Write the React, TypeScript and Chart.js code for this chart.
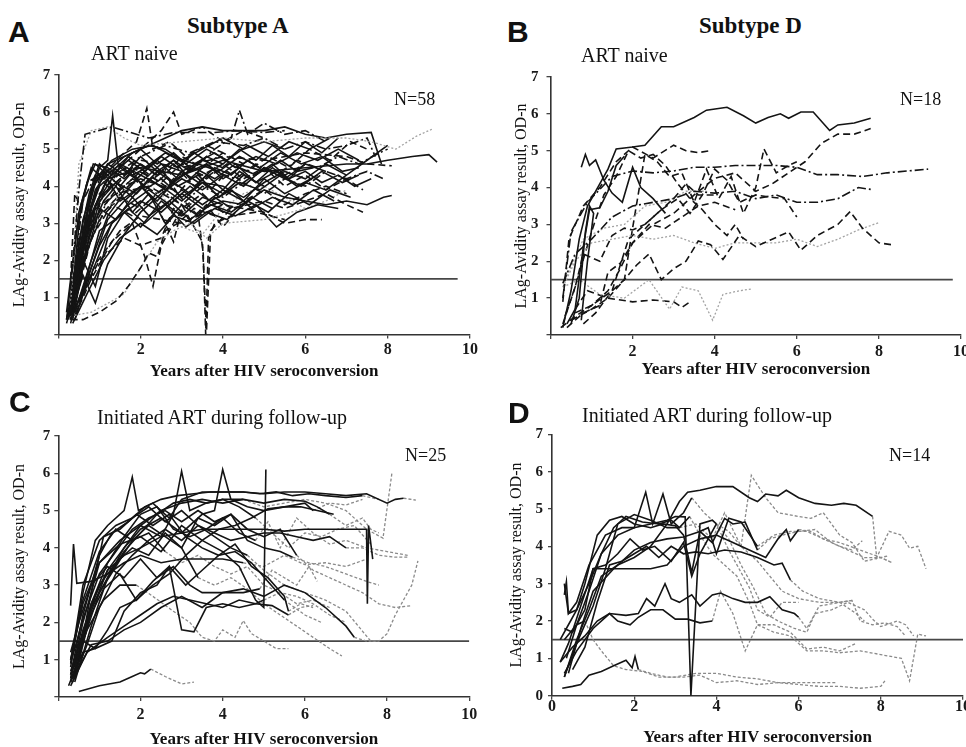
import React, { useEffect, useRef } from 'react';
import { Chart, registerables } from 'chart.js';
Chart.register(...registerables);

const SERIF = '"Liberation Serif", "Times New Roman", serif';
const SANS = '"Liberation Sans", Arial, sans-serif';

// ---------- axis ticks / labels ----------
const xTickValues = [0, 2, 4, 6, 8, 10];
const xTickLabelsNoZero = ['', '2', '4', '6', '8', '10'];
const xTickLabelsZero = ['0', '2', '4', '6', '8', '10'];
const yTickValues = [0, 1, 2, 3, 4, 5, 6, 7];
const yTickLabelsNoZero = ['', '1', '2', '3', '4', '5', '6', '7'];
const yTickLabelsZero = ['0', '1', '2', '3', '4', '5', '6', '7'];
const cutoffValue = 1.5;

// ---------- Panel A: subtype A, ART naive (x, y pairs) ----------
const seriesA: number[][] = [
  [0.25,0.4, 0.5,2.0, 0.8,3.8, 1.0,4.5, 1.2,4.7, 1.32,5.9, 1.45,4.6, 1.8,4.3, 2.3,4.6, 2.8,4.1, 3.3,4.5, 3.8,4.2, 4.3,4.6, 4.8,4.1, 5.3,4.4, 5.8,4.0, 6.3,4.3],
  [0.3,1.2, 0.5,3.9, 0.65,5.4, 1.3,5.6, 1.6,5.5, 2.2,5.3, 2.8,5.45, 3.3,5.45, 3.8,5.45, 4.3,5.5, 5.0,5.45, 5.5,5.5],
  [0.3,0.8, 0.5,4.6, 0.8,5.5, 1.2,5.6, 1.6,5.3, 2.0,5.1, 3.0,5.2, 4.0,5.3, 5.0,5.2, 6.0,5.3, 7.0,5.3, 7.6,5.2, 8.2,5.0, 8.7,5.35, 9.1,5.55],
  [0.3,0.6, 0.6,2.5, 1.0,4.2, 1.5,4.8, 1.9,5.2, 2.15,6.1, 2.3,5.0, 2.7,5.2, 3.1,4.8, 3.6,5.1, 4.0,4.9],
  [0.35,0.7, 0.7,3.2, 1.1,4.3, 1.6,4.6, 2.0,5.0, 2.5,5.5, 2.8,6.0, 3.0,5.4, 3.5,5.6, 4.0,5.2, 4.5,5.5, 5.0,5.3],
  [0.3,0.5, 0.7,2.6, 1.2,3.6, 1.8,4.2, 2.4,3.8, 3.0,4.3, 3.4,4.6, 3.8,5.0, 4.2,5.3, 4.4,6.05, 4.6,5.4, 5.0,5.7, 5.5,5.4, 6.0,5.5, 6.5,5.2],
  [0.3,0.5, 0.7,3.0, 1.2,4.2, 2.0,4.5, 3.0,4.3, 4.0,4.7, 5.0,4.4, 6.0,4.5, 7.0,4.6, 7.5,4.6, 8.0,4.7, 8.6,4.8, 9.0,4.85, 9.2,4.65],
  [0.4,0.8, 0.8,3.5, 1.2,4.6, 2.0,5.0, 2.6,5.3, 3.0,5.5, 3.5,5.6, 4.0,5.5, 4.5,5.5, 5.0,5.5, 5.5,5.6, 6.0,5.4, 6.5,5.3, 7.0,5.4, 7.6,5.45, 7.85,4.6],
  [0.3,0.6, 0.6,2.2, 1.0,3.8, 1.5,4.4, 2.0,4.7, 3.0,4.5, 4.0,4.8, 5.0,4.7, 6.0,4.9, 7.0,4.8, 7.5,4.6, 8.1,4.55],
  [0.3,0.4, 0.6,1.2, 1.0,2.8, 1.5,3.2, 2.0,3.6, 2.5,3.3, 3.0,3.8, 3.5,3.4, 4.0,3.6, 4.5,3.5, 5.0,3.9, 5.5,3.7, 6.0,3.6, 6.5,3.5, 7.0,3.6, 7.5,3.5, 7.9,3.7, 8.1,3.75],
  [0.3,0.4, 0.6,0.4, 1.0,0.6, 1.4,0.9, 1.7,1.3, 2.0,1.8, 2.2,2.2, 2.4,2.1, 2.6,2.8, 2.9,3.0, 3.3,3.4, 3.8,3.2],
  [0.3,0.5, 0.8,0.6, 1.3,0.9, 1.6,1.1, 2.0,1.8, 2.4,2.5, 2.8,2.8, 3.2,3.0, 3.6,2.6, 4.0,3.0, 5.0,3.1, 6.0,3.4],
  [0.4,0.5, 0.8,1.5, 1.3,2.5, 1.8,3.0, 2.1,2.1, 2.3,1.3, 2.5,2.4, 2.9,3.2, 3.3,3.6],
  [0.3,1.0, 0.8,3.0, 1.4,3.9, 2.0,4.2, 2.8,3.9, 3.4,3.2, 3.52,2.2, 3.58,0.0, 3.65,2.6, 3.8,3.0, 4.2,3.2, 4.8,3.3, 5.5,3.1],
  [0.3,0.8, 0.8,3.3, 1.4,3.8, 2.2,4.0, 3.0,3.5, 3.5,2.5, 3.6,0.1, 3.7,2.8, 4.2,3.4, 5.0,3.6, 5.5,3.4, 6.0,3.6, 6.5,3.8, 7.0,3.5, 7.4,3.3],
  [0.4,0.6, 0.9,1.9, 1.5,2.8, 2.0,3.2, 3.0,3.0, 4.0,3.5, 5.0,3.3, 5.5,3.0, 6.0,3.1, 6.4,3.1],
  [0.2,0.4, 0.45,2.8, 0.7,4.1, 0.9,4.6, 1.2,4.3, 1.5,4.0, 1.8,4.4, 2.1,3.9, 2.5,4.2, 3.0,3.7, 3.5,4.1, 4.0,3.8, 4.5,4.3, 5.0,4.0],
  [0.25,0.5, 0.5,2.2, 0.8,3.9, 1.1,4.4, 1.5,3.6, 2.0,4.0, 2.5,3.4, 3.0,3.9, 3.5,3.5, 4.0,3.9, 4.5,3.6, 5.0,4.2, 5.5,3.8, 6.0,4.1, 6.5,3.9, 7.0,4.3],
  [0.3,0.9, 0.6,3.1, 0.9,4.2, 1.3,4.7, 1.8,5.0, 2.3,5.1, 2.8,4.8, 3.3,4.6, 3.8,4.9, 4.3,4.5, 4.8,4.8, 5.3,4.6, 5.8,4.9, 6.3,4.7, 6.8,5.0, 7.3,4.7],
  [0.3,0.3, 0.6,1.8, 1.0,3.4, 1.4,3.1, 1.8,3.7, 2.2,3.2, 2.7,3.6, 3.2,3.1, 3.7,3.5, 4.2,3.3, 4.7,3.7, 5.2,3.4],
  [0.2,0.6, 0.5,3.3, 0.8,4.5, 1.1,4.2, 1.5,4.6, 2.0,4.3, 2.4,4.7, 2.9,4.2, 3.4,4.6, 3.9,4.4, 4.4,4.8, 4.9,4.5, 5.4,4.9, 5.9,4.6, 6.4,4.8, 6.9,4.4, 7.3,4.5],
  [0.35,0.4, 0.7,2.4, 1.0,3.6, 1.4,4.1, 1.9,3.8, 2.4,4.4, 2.9,4.0, 3.4,4.3, 3.9,3.7, 4.4,4.1, 4.9,3.9, 5.4,4.3, 5.9,4.0, 6.4,4.4, 6.9,4.1, 7.3,4.3],
  [0.3,0.6, 0.65,2.9, 1.0,4.0, 1.5,4.5, 2.0,4.1, 2.5,4.6, 3.0,4.4, 3.5,4.7, 4.0,4.5],
  [0.4,0.5, 0.9,1.9, 1.3,3.0, 1.7,3.5, 2.2,3.9, 2.7,3.5, 3.2,4.0, 3.7,3.6, 4.2,3.9, 4.7,3.4, 5.2,3.7, 5.7,3.5, 6.2,3.9, 6.7,3.6],
  [0.3,0.5, 0.6,2.6, 0.9,3.9, 1.2,4.4, 1.6,4.8, 2.0,5.0, 2.4,4.6, 2.8,4.9, 3.2,4.5, 3.6,4.8, 4.0,4.6, 4.4,5.0, 4.8,4.7, 5.2,5.1, 5.6,4.8, 6.0,5.2, 6.4,4.9, 6.8,5.3],
  [0.2,0.3, 0.5,1.5, 0.8,2.8, 1.1,3.6, 1.4,4.0, 1.8,3.3, 2.2,3.8, 2.6,3.0, 3.0,3.5, 3.4,3.2, 3.8,3.7, 4.2,3.4],
  [0.3,0.7, 0.55,3.5, 0.85,4.6, 1.2,4.5, 1.6,4.2, 2.0,4.6, 2.4,4.3, 2.8,4.7, 3.2,4.4, 3.6,4.6, 4.0,4.2, 4.4,4.5, 4.8,4.3, 5.2,4.6, 5.6,4.2, 6.0,4.4, 6.4,4.1, 6.8,4.3, 7.2,4.0, 7.6,4.2],
  [0.4,0.6, 0.8,2.0, 1.2,3.2, 1.6,3.8, 2.0,4.3, 2.5,4.0, 3.0,3.6, 3.5,4.1, 4.0,4.0, 4.5,3.7, 5.0,4.1, 5.5,4.4, 6.0,4.2, 6.5,4.6, 7.0,4.3, 7.5,4.7, 8.0,5.1],
  [0.3,0.4, 0.7,1.5, 1.0,2.4, 1.3,3.0, 1.7,3.4, 2.1,3.0, 2.6,3.5, 3.1,2.9, 3.6,3.3, 4.1,3.1, 4.6,3.6, 5.1,3.3, 5.6,3.8, 6.1,3.5, 6.6,3.9, 7.1,3.7],
  [0.25,0.5, 0.5,2.5, 0.75,3.8, 1.0,4.6, 1.3,4.3, 1.7,4.7, 2.1,4.4, 2.5,4.8, 2.9,4.5, 3.3,4.9, 3.7,4.6],
  [0.3,1.5, 0.4,3.8, 0.55,3.4, 0.7,4.1, 1.0,4.3, 1.5,3.9, 2.0,4.4, 2.5,4.1, 3.0,4.6, 3.5,4.3, 4.0,4.6, 4.5,4.2, 5.0,4.5, 5.5,4.3, 6.0,4.6],
  [0.35,0.6, 0.8,2.6, 1.3,3.5, 1.8,3.2, 2.3,3.7, 2.8,2.5, 3.0,3.4, 3.5,3.8, 4.0,3.3, 4.5,3.6, 5.0,3.9, 5.5,3.5, 6.0,3.8, 6.5,4.0, 7.0,3.8],
  [0.3,0.7, 0.6,2.0, 1.0,3.1, 1.5,3.7, 2.0,3.4, 2.5,3.9, 3.0,3.5, 3.5,4.0, 4.0,3.7, 4.5,4.1, 5.0,3.8, 5.5,4.2, 6.0,4.0, 6.5,4.4, 7.0,4.2, 7.5,4.4, 7.9,4.2],
  [0.3,0.5, 0.7,2.3, 1.1,3.3, 1.6,3.9, 2.1,4.4, 2.6,4.0, 3.1,4.5, 3.6,4.2, 4.1,4.6, 4.6,4.4, 5.1,4.8, 5.6,4.5, 6.1,5.0, 6.6,4.7, 7.1,5.2, 7.5,5.0],
  [0.4,0.8, 0.9,3.4, 1.5,4.4, 2.0,4.8, 2.6,5.1, 3.2,4.9, 3.8,5.2, 4.5,5.1, 5.0,5.3, 5.5,5.0, 6.0,5.2, 6.5,5.0, 7.0,5.1, 7.5,5.3, 7.7,4.8],
  [0.3,0.9, 0.6,2.0, 0.9,1.3, 1.2,2.6, 1.6,3.3, 2.0,2.9, 2.5,3.6, 3.0,3.2, 3.5,3.7, 4.0,3.5],
  [0.3,0.5, 0.6,1.6, 0.9,0.85, 1.2,1.9, 1.6,2.7, 2.0,3.3, 2.5,3.8, 3.0,4.2, 3.5,3.9, 4.0,4.3, 4.5,4.0, 5.0,4.5, 5.5,4.2, 6.0,4.6, 6.5,4.4],
  [0.2,0.4, 0.4,1.5, 0.6,2.4, 0.8,3.2, 1.1,4.0, 1.4,4.5, 1.8,4.9, 2.2,5.1, 2.6,5.0, 3.0,4.7, 3.5,5.0, 4.0,5.3, 4.5,5.0, 5.0,5.2, 5.5,5.0],
  [0.35,0.3, 0.7,1.1, 1.1,2.0, 1.5,2.6, 2.0,3.0, 2.4,2.7, 2.8,3.2, 3.3,3.0, 3.8,3.4, 4.3,3.2, 4.8,3.5, 5.3,2.9, 5.8,3.3, 6.3,3.5, 6.8,3.4],
  [0.3,0.5, 0.5,1.6, 0.8,2.9, 1.1,3.8, 1.5,4.2, 2.0,4.6, 2.5,4.2, 3.0,4.8, 3.5,4.5, 4.0,4.9, 4.5,4.6],
  [0.3,0.6, 0.6,2.0, 1.0,3.2, 1.5,3.8, 2.0,4.2, 2.5,3.8, 3.0,2.9, 3.5,2.7, 4.0,3.4, 4.5,3.8, 5.0,4.0, 5.5,3.7, 6.0,3.4, 6.5,3.6, 7.0,3.9],
  [0.3,0.5, 0.6,2.3, 0.9,3.5, 1.3,4.2, 1.7,4.8, 2.1,4.5, 2.6,4.9, 3.1,4.6, 3.6,5.0, 4.1,4.7, 4.6,5.1, 5.1,4.8, 5.6,5.2, 6.1,5.0, 6.6,5.3],
  [0.4,0.4, 0.8,1.8, 1.2,3.1, 1.6,3.6, 2.0,4.0, 2.4,3.6, 2.8,4.1, 3.2,3.8, 3.6,4.3, 4.0,3.9, 4.4,4.4, 4.8,4.1, 5.2,4.5, 5.6,4.2, 6.0,4.6],
  [0.4,0.7, 1.0,2.0, 1.6,2.6, 2.0,2.4, 2.5,2.6, 2.8,3.4, 3.2,3.1, 3.6,3.5, 4.0,2.9, 4.3,3.3],
  [0.3,0.4, 0.5,2.4, 0.7,3.5, 1.0,4.4, 1.3,4.0, 1.7,4.4, 2.1,4.0, 2.5,4.5, 2.9,3.8, 3.3,4.3, 3.7,3.9, 4.1,4.4, 4.5,4.1, 5.0,4.5, 5.5,4.0, 6.0,4.3, 6.5,3.9, 7.0,4.2, 7.4,3.9],
  [0.3,0.6, 0.6,2.8, 0.9,4.1, 1.2,4.6, 1.6,4.3, 2.0,4.8, 2.4,4.4, 2.8,4.7, 3.2,4.2, 3.6,4.6, 4.0,4.3],
  [0.25,0.5, 0.5,1.8, 0.75,3.0, 1.0,3.7, 1.4,4.1, 1.8,3.7, 2.2,4.2, 2.6,3.9, 3.0,4.4, 3.4,4.1, 3.8,4.5, 4.2,4.3, 4.6,4.7, 5.0,4.4, 5.4,4.7, 5.8,4.4, 6.2,4.5],
  [0.3,1.0, 0.6,3.6, 0.9,4.3, 1.3,3.9, 1.8,4.5, 2.3,4.2, 2.8,4.6, 3.3,4.0, 3.8,4.4, 4.3,4.2, 4.8,4.6, 5.3,4.3, 5.8,4.7, 6.3,4.5, 6.8,4.8, 7.3,4.6, 7.8,4.9, 8.0,5.0],
];
const stylesA: string[] = [
  's','dd','o','d','d','dd','s','s','d','s','d','o','d','d','d','d',
  's','s','s','s','s','s','s','s','s','s','s','s','s','s','d','d',
  'dd','d','dd','s','s','s','s','d','o','s','s','d','d','s','s','dd',
];

// ---------- Panel B: subtype D, ART naive ----------
const seriesB: number[][] = [
  [0.3,0.2, 0.5,1.2, 0.7,2.6, 0.9,3.5, 1.2,4.1, 1.4,4.5, 1.6,5.05, 2.0,5.1, 2.3,5.15, 2.7,5.65, 3.0,5.65, 3.5,5.9, 3.8,6.1, 4.3,6.18, 4.7,5.95, 5.0,5.75, 5.3,5.9, 5.6,6.0, 5.8,5.88, 6.1,6.05, 6.4,6.05, 6.8,5.55, 7.0,5.7, 7.4,5.75, 7.8,5.88],
  [0.75,4.55, 0.85,4.9, 0.95,4.6, 1.1,4.75, 1.3,4.2, 1.5,3.85, 1.75,3.6, 2.0,4.55, 2.2,4.0, 2.5,3.7, 2.8,3.3],
  [0.4,0.3, 0.6,0.7, 0.8,2.4, 0.95,3.4, 1.2,3.45, 1.4,3.9, 1.6,4.6, 1.8,4.85],
  [0.5,0.3, 0.7,1.0, 0.85,2.8, 0.95,3.5, 1.05,3.3, 0.9,2.0, 0.75,0.4],
  [0.3,0.9, 0.45,2.6, 0.8,3.5, 1.2,4.0, 1.6,4.7, 2.0,5.1, 2.5,4.8, 3.0,5.15, 3.3,5.0, 3.6,4.95, 3.9,5.0],
  [0.3,1.0, 0.5,2.8, 0.9,3.6, 1.5,4.3, 2.0,4.45, 2.5,4.4, 3.0,4.45, 3.5,4.55, 4.0,4.55, 4.5,4.6, 5.0,4.6, 5.5,4.6, 6.0,4.55, 6.5,4.35, 7.0,4.35, 7.6,4.3, 8.2,4.4, 9.2,4.5],
  [0.25,0.2, 0.6,0.5, 1.0,0.8, 1.4,1.2, 1.7,1.8, 2.0,2.5, 2.5,3.0, 3.0,3.3, 3.5,3.8, 4.0,4.25, 4.5,4.4, 5.0,3.9, 5.4,4.1, 5.8,4.4, 6.2,4.7, 6.6,5.2, 7.0,5.45, 7.4,5.45, 7.8,5.6],
  [0.3,1.4, 0.6,2.2, 1.0,2.6, 1.5,3.2, 2.0,3.5, 2.5,3.6, 3.0,3.7, 3.5,3.9, 4.0,3.85, 4.5,3.9, 5.0,3.7, 5.5,3.8, 6.0,3.6, 6.5,3.6, 7.0,3.7, 7.5,4.0, 7.8,3.95],
  [0.6,0.6, 1.0,0.8, 1.5,1.2, 1.8,1.5, 2.1,1.9, 2.4,2.2, 2.7,1.5, 3.0,1.8, 3.3,2.0, 3.6,2.55, 3.9,2.45, 4.2,2.05, 4.6,2.7, 5.0,2.4, 5.4,2.6, 5.8,2.8, 6.1,2.3, 6.5,2.7, 7.0,3.0, 7.3,3.35, 7.6,2.9, 8.0,2.5, 8.3,2.45],
  [0.3,1.3, 0.6,2.0, 1.0,2.5, 1.5,2.6, 2.0,2.7, 2.5,2.6, 3.0,2.7, 3.5,2.5, 4.0,2.35, 4.5,2.5, 5.0,2.5, 5.5,2.5, 6.0,2.6, 6.5,2.4, 7.0,2.6, 7.5,2.85, 8.0,3.05],
  [0.3,1.3, 0.7,1.5, 1.2,1.1, 1.8,1.0, 2.4,1.5, 2.9,0.7, 3.2,1.3, 3.6,1.2, 3.95,0.4, 4.2,1.1, 4.6,1.2, 4.9,1.25],
  [0.6,0.7, 0.9,1.2, 1.4,1.0, 2.0,0.9, 2.5,0.95, 3.0,0.9, 3.2,0.75, 3.4,0.9],
  [0.35,0.5, 0.6,1.3, 0.8,2.2, 1.2,2.0, 1.5,2.7, 1.8,2.9, 2.0,2.85, 2.3,3.0, 2.6,3.3, 3.0,3.7, 3.3,4.1, 3.6,3.8, 4.0,3.8],
  [0.4,1.6, 0.8,2.6, 1.3,2.9, 1.8,3.0, 2.3,3.5, 2.8,3.6, 3.3,3.9, 3.8,3.9],
  [0.3,0.3, 0.6,1.3, 1.0,2.8, 1.3,3.8, 1.6,4.3, 1.9,5.0, 2.2,4.8, 2.5,4.9, 2.8,4.6, 3.1,4.1, 3.4,3.7, 3.7,3.4, 4.0,3.0, 4.3,2.7, 4.5,3.0, 4.7,2.6],
  [0.5,0.4, 1.0,0.7, 1.4,1.0, 1.8,1.5, 2.0,2.9, 2.3,4.9, 2.6,4.7, 2.9,4.3, 3.2,4.4, 3.5,3.6, 3.8,4.5, 4.1,3.7, 4.4,4.3, 4.7,3.3, 5.0,4.0, 5.2,5.05, 5.5,4.4, 5.8,4.6, 6.0,4.7],
  [0.8,0.3, 1.1,0.6, 1.5,1.2, 1.9,2.6, 2.3,3.0, 2.7,3.4, 3.1,3.7, 3.4,3.3, 3.7,3.8, 4.0,4.5, 4.3,4.2, 4.6,3.6, 5.0,3.8, 5.3,3.75, 5.7,3.7, 6.0,3.2],
  [0.4,0.2, 0.8,0.6, 1.2,0.8, 1.4,1.7, 1.7,1.95, 2.0,2.5, 2.4,3.0, 2.8,2.9, 3.2,3.2, 3.6,3.5, 4.0,3.6, 4.5,3.4],
];
const stylesB: string[] = ['s','s','s','s','d','dd','d','dd','d','o','o','d','d','o','d','d','d','d'];

// ---------- Panel C: subtype A, initiated ART (solid before ART, grey dashed after) ----------
const preC: number[][] = [
  [0.3,2.45, 0.37,4.1, 0.45,3.05, 0.8,3.1, 1.2,3.3, 1.6,3.6, 2.0,3.8, 2.5,3.6, 3.0,3.7, 3.5,3.7, 4.0,3.7, 4.5,3.6],
  [0.3,0.8, 0.6,2.8, 0.9,4.2, 1.2,4.6, 1.6,5.0, 1.8,5.9, 1.95,5.0, 2.3,5.2, 2.7,4.8, 3.0,5.3, 3.5,5.5, 4.0,5.5, 4.5,5.5, 5.0,5.45, 5.5,5.5, 6.0,5.5, 6.5,5.45, 7.0,5.4, 7.5,5.45, 8.0,5.2, 8.2,5.3, 8.4,5.33],
  [0.3,0.5, 0.6,2.0, 1.0,3.6, 1.5,4.2, 2.0,4.6, 2.5,4.3, 2.8,4.9, 3.0,6.05, 3.2,5.0, 3.6,5.2, 4.0,5.3, 4.5,5.3, 5.0,5.2, 5.5,5.3, 6.0,5.25, 6.3,5.1, 6.6,4.9],
  [0.4,0.4, 0.8,1.9, 1.2,3.2, 1.6,4.0, 2.0,4.5, 2.5,4.8, 3.0,4.4, 3.5,4.9, 3.8,5.0, 4.0,6.1, 4.2,5.3, 4.6,5.1, 5.0,5.0, 5.5,5.1, 6.0,5.2, 6.2,5.0],
  [0.3,1.0, 0.6,2.5, 1.0,3.6, 1.5,4.1, 2.0,4.3, 2.5,3.9, 3.0,4.6, 3.5,4.2, 4.0,3.9, 4.4,3.5, 4.8,2.6, 5.0,2.4, 5.05,6.1],
  [0.4,0.8, 0.8,2.5, 1.2,3.4, 1.6,3.8, 2.0,4.0, 2.5,4.3, 3.0,4.4, 3.5,4.5, 4.0,4.5, 4.5,4.5, 5.0,4.5, 5.5,4.45, 6.0,4.5, 6.5,4.5, 7.0,4.5, 7.5,4.5, 7.52,2.5, 7.55,4.6, 7.65,3.7],
  [0.5,0.15, 1.0,0.3, 1.5,0.4, 1.8,0.55, 2.0,0.65, 2.1,0.62, 2.25,0.75],
  [0.3,0.3, 0.7,1.2, 1.2,1.6, 1.6,1.9, 2.0,2.2, 2.4,2.5, 2.8,2.7, 3.2,2.6, 3.6,2.5, 4.0,2.4, 4.4,2.6, 4.8,2.5, 5.2,2.45, 5.6,2.2],
  [0.35,0.5, 0.8,1.4, 1.2,1.5, 1.6,1.8, 2.0,2.0, 2.5,2.4, 3.0,2.7, 3.5,2.4, 4.0,2.8, 4.5,2.9, 5.0,2.7, 5.5,3.0, 6.0,2.8, 6.5,2.4, 7.0,1.9, 7.2,1.6],
  [0.3,0.6, 0.7,1.8, 1.1,2.6, 1.5,3.0, 1.9,3.0],
  [0.3,0.4, 0.6,1.5, 1.0,2.8, 1.4,3.5, 1.8,4.2, 2.2,4.6, 2.6,4.3, 3.0,4.0, 3.4,3.2],
  [0.3,0.9, 0.6,3.0, 1.0,4.2, 1.4,4.6, 1.8,4.8, 2.2,5.1, 2.6,4.7, 3.0,5.0, 3.4,4.6, 3.8,4.3, 4.2,4.0, 4.6,3.8],
  [0.4,0.5, 0.8,2.3, 1.2,3.4, 1.6,4.0, 2.0,4.6, 2.5,5.0, 3.0,5.2, 3.5,5.3, 4.0,5.2, 4.5,5.3],
  [0.3,0.6, 0.6,2.2, 1.0,3.8, 1.3,4.4, 1.7,4.7, 2.1,5.1, 2.5,5.3, 2.9,5.4, 3.3,5.45, 3.7,5.5, 4.1,5.5, 4.5,5.5, 4.9,5.45, 5.3,5.5, 5.7,5.4, 6.1,5.45, 6.5,5.4, 7.0,5.35, 7.4,5.4],
  [0.35,0.4, 0.7,1.4, 1.0,2.4, 1.4,3.3, 1.8,3.8, 2.2,4.2, 2.6,4.5, 3.0,4.2, 3.4,4.6, 3.8,4.4, 4.2,4.2, 4.6,4.3, 5.0,4.4, 5.4,4.4, 5.8,4.3, 6.2,4.2, 6.6,4.3, 7.0,4.0],
  [0.3,0.5, 0.6,1.8, 1.0,3.0, 1.4,3.6, 1.8,4.0, 2.2,3.8, 2.6,4.4, 3.0,4.0, 3.4,4.8, 3.8,4.6, 4.2,4.9, 4.6,4.2, 5.0,4.0, 5.4,3.9, 5.7,3.75],
  [0.3,1.2, 0.5,2.0, 0.8,3.0, 1.2,3.5, 1.6,3.2, 2.0,3.7, 2.4,3.2, 2.8,3.5, 3.2,3.0, 3.5,2.8, 4.0,2.8, 4.5,2.8, 4.9,2.9],
  [0.4,0.8, 0.8,2.5, 1.2,3.6, 1.6,4.3, 2.0,4.9, 2.4,5.1, 2.8,4.5, 3.2,4.3, 3.6,4.5, 4.0,4.8, 4.4,4.4, 4.8,4.2],
  [0.3,0.4, 0.6,1.2, 0.9,1.3, 1.2,1.8, 1.5,2.4, 1.9,2.6, 2.3,3.0, 2.7,3.3, 3.1,3.8, 3.5,4.2, 3.9,4.5, 4.3,4.6, 4.7,4.8, 5.1,5.05, 5.5,5.1, 5.9,5.1, 6.3,5.0, 6.7,4.9],
  [0.35,1.3, 0.6,1.5, 0.9,1.3, 1.3,1.5, 1.6,2.3, 2.0,2.8, 2.4,3.0, 2.7,3.5, 3.0,1.8, 3.3,1.75, 3.6,2.4, 4.0,2.5, 4.4,2.4, 4.8,2.5, 5.0,2.6],
  [0.3,0.7, 0.7,2.0, 1.1,2.9, 1.5,3.3, 1.9,2.6, 2.3,3.1, 2.7,3.5, 3.1,3.0, 3.5,3.4, 3.9,3.8, 4.3,4.1, 4.7,3.5, 5.1,3.2, 5.5,2.7, 5.6,2.3],
  [0.3,1.0, 0.6,2.6, 1.0,3.9, 1.4,4.5, 1.8,4.2, 2.2,4.4, 2.6,3.9],
  [0.25,0.3, 0.5,1.0, 0.8,2.8, 1.1,4.3, 1.5,4.5, 1.9,4.9, 2.3,4.6, 2.7,4.9, 3.1,4.3, 3.5,4.0, 3.9,3.8, 4.3,3.9, 4.7,3.6, 5.1,3.1, 5.5,2.6],
  [0.4,0.6, 0.8,2.4, 1.2,3.2, 1.6,3.9, 2.0,4.4, 2.4,4.9, 2.8,5.2, 3.2,5.3, 3.6,5.2, 4.0,5.3, 4.4,5.1, 4.8,4.8],
  [0.3,0.9, 0.6,2.1, 1.0,3.3, 1.4,3.9, 1.8,4.5, 2.2,4.8, 2.6,5.0, 3.0,4.7, 3.4,5.0, 3.8,4.7, 4.2,4.9, 4.6,4.5, 5.0,4.3, 5.4,4.5, 5.8,3.8],
];
const postC: number[][] = [
  [4.5,3.6, 5.0,3.5, 5.5,3.8, 6.0,3.55, 6.5,3.6, 7.0,3.5, 7.5,3.7],
  [8.4,5.33, 8.7,5.28],
  [6.6,4.9, 7.0,4.6, 7.4,4.8, 7.6,4.5, 7.8,4.4],
  [6.2,5.0, 6.6,5.2, 7.0,5.15, 7.4,5.3],
  [],
  [],
  [2.25,0.75, 2.6,0.55, 3.0,0.35, 3.3,0.4],
  [5.6,2.2, 5.9,2.4, 6.2,2.45],
  [7.2,1.6, 7.5,1.5, 7.8,1.5],
  [1.9,3.0, 2.3,2.7, 2.8,2.3, 3.2,2.0, 3.5,1.6, 3.8,1.5, 4.0,1.8, 4.3,1.6, 4.5,2.05, 4.7,1.7, 5.0,1.5, 5.3,1.3, 5.6,1.3],
  [3.4,3.2, 3.8,3.0, 4.2,3.2, 4.6,2.9, 5.0,2.5, 5.4,2.2, 5.8,1.9, 6.2,1.6, 6.6,1.3, 6.9,1.1],
  [4.6,3.8, 5.0,3.4, 5.5,3.0, 6.0,2.8, 6.5,2.6, 7.0,2.3, 7.3,1.9, 7.6,1.5, 7.8,1.5, 8.0,1.7, 8.2,2.2, 8.4,2.6, 8.6,3.0, 8.75,3.65],
  [4.5,5.3, 5.0,5.1, 5.5,5.2, 6.0,5.3, 6.5,5.2, 7.0,5.0, 7.5,4.5, 7.9,4.26, 8.12,6.03],
  [7.4,5.4, 7.8,5.3],
  [7.0,4.0, 7.4,4.0, 7.8,3.8, 8.2,3.75, 8.5,3.75],
  [5.7,3.75, 6.1,3.6, 6.5,3.5, 7.0,3.3, 7.5,3.1, 7.8,3.0],
  [4.9,2.9, 5.2,3.4, 5.5,3.2, 5.8,3.0, 6.1,3.5, 6.3,3.1],
  [4.8,4.2, 5.1,4.7, 5.4,4.0, 5.8,4.8, 6.2,4.4, 6.6,4.1, 7.0,4.2, 7.5,4.0, 8.0,3.9, 8.5,3.8],
  [],
  [5.0,2.6, 5.4,2.8, 5.8,2.5, 6.2,2.6, 6.6,2.4],
  [5.6,2.3, 5.9,2.5, 6.2,2.4],
  [2.6,3.9, 3.0,3.6, 3.4,3.8, 3.8,3.5, 4.2,3.3, 4.6,3.5, 5.0,3.0, 5.4,2.8, 5.8,2.7, 6.2,2.5, 6.6,2.2, 7.0,2.0],
  [5.5,2.6, 6.0,2.2, 6.4,2.0],
  [4.8,4.8, 5.2,4.4, 5.6,4.0, 6.0,4.4, 6.4,4.3, 6.8,4.5, 7.2,4.6, 7.6,4.1],
  [5.8,3.8, 6.2,3.4, 6.6,3.2, 7.0,3.0, 7.4,2.8, 7.8,2.5, 8.2,2.4, 8.6,2.45],
];

// ---------- Panel D: subtype D, initiated ART ----------
const preD: number[][] = [
  [0.3,0.5, 0.6,1.5, 0.9,2.3, 1.2,3.2, 1.6,3.5, 2.0,3.7, 2.4,4.0, 2.8,4.6, 3.1,5.2, 3.3,5.45, 3.6,5.5, 4.0,5.6, 4.4,5.6, 4.8,5.3, 5.0,5.2, 5.2,5.4, 5.5,5.35, 5.7,5.5, 6.0,5.3, 6.4,5.15, 6.8,5.1, 7.1,5.15, 7.4,5.1, 7.8,4.8],
  [0.2,1.5, 0.4,1.9, 0.6,2.3, 0.9,3.0, 1.2,3.8, 1.6,4.3, 2.0,4.5, 2.4,4.6, 2.8,4.7, 3.0,4.8, 3.24,4.79, 3.38,0.0, 3.6,4.6, 3.9,4.7, 4.0,4.6],
  [0.3,2.7, 0.35,3.05, 0.4,2.2, 0.6,2.5, 0.9,3.5, 1.3,4.3, 1.7,4.5, 2.0,4.5, 2.28,5.45, 2.45,4.6, 2.7,5.4, 2.9,4.6, 3.2,4.9, 3.4,5.3],
  [0.2,0.9, 0.4,1.4, 0.7,2.4, 1.0,3.4, 1.5,3.4, 2.0,3.9, 2.4,4.1, 2.8,4.2, 3.2,4.25, 3.6,4.4, 3.8,4.5, 4.0,3.8, 4.3,4.75, 4.6,4.65, 5.0,4.0],
  [0.4,0.6, 0.7,1.8, 1.0,2.8, 1.5,3.4, 2.0,3.4, 2.4,3.4, 2.8,3.5, 3.2,4.0, 3.6,4.2, 4.0,4.3, 4.4,4.1, 4.8,3.9, 5.2,3.7, 5.5,4.2, 5.7,4.45, 5.8,4.15, 6.0,4.45],
  [0.5,0.7, 0.8,1.3, 1.1,2.5, 1.4,3.5, 1.7,3.6, 2.0,3.8, 2.3,4.0, 2.6,3.7, 2.9,4.0, 3.2,3.8, 3.5,3.85, 3.8,3.8, 4.2,3.9, 4.6,3.85, 5.0,3.7, 5.4,3.5, 5.6,3.55, 5.8,3.1],
  [0.3,1.8, 0.5,1.7, 0.8,2.3, 1.0,3.4, 1.3,3.5, 1.6,3.8, 1.9,4.2, 2.2,3.9, 2.5,4.0, 2.9,3.6, 3.2,4.1, 3.4,3.2, 3.6,3.8, 4.0,4.6],
  [0.3,0.6, 0.6,1.2, 1.0,1.8, 1.4,2.2, 1.8,2.15, 2.1,2.2, 2.3,2.6, 2.5,2.4, 2.75,3.0, 2.9,2.6, 3.1,2.5, 3.4,2.7, 3.6,2.4, 3.9,2.7, 4.1,2.75, 4.4,2.6, 4.7,2.5, 5.0,2.5, 5.3,2.65, 5.6,2.3, 5.9,2.2, 6.0,2.1],
  [0.2,0.9, 0.5,1.3, 0.8,1.6, 1.1,2.0, 1.4,2.2, 1.6,2.0, 1.9,1.9, 2.1,2.1, 2.4,2.3, 2.7,2.3, 3.0,2.05, 3.3,2.05, 3.6,1.95, 3.9,2.0],
  [0.25,0.2, 0.5,0.25, 0.7,0.3, 0.9,0.55, 1.2,0.65, 1.5,0.8, 1.8,0.95, 1.95,0.75, 2.02,1.05, 2.1,0.7],
  [0.3,1.5, 0.6,1.9, 0.8,2.0],
  [0.3,0.5, 0.6,1.4, 1.0,2.4, 1.3,3.4, 1.6,4.6, 2.0,4.85, 2.4,4.7, 2.8,4.5, 3.1,4.5],
  [0.3,3.0, 0.4,2.2, 0.6,2.3, 0.8,3.0, 1.1,4.3, 1.4,4.7, 1.7,4.8, 2.0,4.6, 2.4,4.5, 2.7,4.6, 3.0,4.55, 3.2,4.3, 3.4,3.3, 3.6,4.4, 3.9,4.1, 4.2,4.75, 4.4,4.6, 4.7,4.65, 5.0,3.9],
  [0.35,1.0, 0.6,1.9, 0.9,2.8, 1.2,3.8, 1.5,4.5, 1.8,4.8, 2.2,4.65, 2.6,4.6, 2.9,4.7, 3.1,4.5, 3.35,4.8],
];
const postD: number[][] = [
  [7.8,4.8, 7.9,3.7, 8.2,4.4, 8.5,4.3, 8.7,3.95, 8.9,4.0, 9.1,3.4],
  [4.0,4.6, 4.3,4.4, 4.6,4.0, 5.0,3.6, 5.3,3.2, 5.6,2.8, 6.0,2.6, 6.5,2.5, 7.0,2.5, 7.3,2.55, 7.5,2.0, 7.8,1.9, 8.1,1.95, 8.4,1.85, 8.6,1.6],
  [3.4,5.3, 3.7,4.9, 4.0,4.6, 4.3,4.2, 4.6,3.5, 4.9,2.9, 5.2,2.2, 5.5,2.0, 5.9,1.8, 6.2,1.7, 6.4,2.2, 6.8,2.3, 7.2,2.5, 7.6,2.3, 7.8,2.05, 8.0,1.85, 8.4,2.0, 8.6,1.9, 8.8,1.6],
  [5.0,4.0, 5.4,4.3, 5.8,4.4, 6.2,4.4, 6.6,4.2, 7.0,4.1, 7.5,3.9, 8.0,3.7, 8.2,3.6],
  [6.0,4.45, 6.3,4.4, 6.6,4.2, 7.0,4.0, 7.3,3.9, 7.55,4.15],
  [5.8,3.1, 6.1,2.8, 6.5,2.6, 7.0,2.5, 7.3,2.55],
  [4.0,4.6, 4.3,3.9, 4.6,3.3, 4.8,2.9, 5.0,2.3, 5.3,2.1, 5.6,2.5, 6.0,2.5],
  [6.0,2.1, 6.2,1.8, 6.5,2.4, 7.0,2.5, 7.4,2.2, 7.6,2.0],
  [3.9,2.0, 4.1,2.8, 4.4,2.2, 4.7,1.2, 5.0,1.9, 5.4,1.9, 5.8,1.7, 6.2,1.25, 6.6,1.3, 7.0,1.2, 7.4,1.4],
  [2.1,0.7, 2.4,0.6, 2.8,0.5, 3.2,0.5, 3.6,0.55, 4.0,0.35, 4.5,0.4, 5.0,0.3, 5.5,0.35, 6.0,0.3, 6.5,0.25, 7.0,0.25, 7.5,0.2, 8.0,0.25, 8.1,0.4],
  [0.8,2.0, 1.0,1.5, 1.2,1.2, 1.5,0.8, 1.8,0.7, 2.2,0.65, 2.6,0.5, 3.0,0.5, 3.5,0.6, 4.0,0.6, 4.5,0.5, 5.0,0.45, 5.5,0.35, 6.0,0.35, 6.5,0.35, 6.9,0.35],
  [3.1,4.5, 3.5,4.6, 3.9,4.2, 4.2,4.9, 4.6,4.0, 4.85,5.9, 5.2,5.3, 5.5,4.9, 6.0,4.8, 6.3,4.75, 6.6,4.9, 7.0,4.3, 7.3,4.1, 7.6,3.6, 8.0,3.7, 8.3,3.55],
  [5.0,3.9, 5.3,4.2, 5.6,4.3, 6.0,4.4, 6.4,4.45, 6.8,4.1, 7.2,3.9, 7.6,3.7, 8.0,3.7, 8.2,3.75],
  [3.35,4.8, 3.6,4.3, 3.9,3.8, 4.2,3.5, 4.5,3.2, 4.8,2.5, 5.0,1.9, 5.4,1.7, 5.8,1.6, 6.2,1.2, 6.6,1.2, 7.0,1.15, 7.5,1.2, 8.0,1.1, 8.5,1.0, 8.7,0.4, 8.9,1.65, 9.1,1.6],
];

// ---------- styling ----------
const lineStyles: Record<string, any> = {
  s: { borderColor: '#141414', borderDash: [], borderWidth: 1.6 },
  d: { borderColor: '#141414', borderDash: [7, 4], borderWidth: 1.6 },
  dd: { borderColor: '#141414', borderDash: [9, 3, 2, 3], borderWidth: 1.6 },
  o: { borderColor: '#a3a3a3', borderDash: [2, 2], borderWidth: 1.3 },
  g: { borderColor: '#8a8a8a', borderDash: [3, 2], borderWidth: 1.3 },
};

function toPoints(flat: number[]) {
  const out: { x: number; y: number }[] = [];
  for (let i = 0; i + 1 < flat.length; i += 2) out.push({ x: flat[i], y: flat[i + 1] });
  return out;
}

function lineDs(flat: number[], style: string) {
  const st = lineStyles[style];
  return {
    data: toPoints(flat),
    borderColor: st.borderColor,
    borderDash: st.borderDash,
    borderWidth: st.borderWidth,
    pointRadius: 0,
    fill: false,
    tension: 0,
  };
}

function cutoffDs(xEnd: number) {
  return {
    data: [{ x: 0, y: cutoffValue }, { x: xEnd, y: cutoffValue }],
    borderColor: '#474747',
    borderWidth: 1.8,
    pointRadius: 0,
    fill: false,
    tension: 0,
  };
}

type PanelSpec = {
  left: number; top: number; width: number; height: number;
  padTop: number; padRight: number; yWidth: number; xHeight: number;
  xTitlePad: number; yTitlePad: number; xTickPad: number; yTickPad: number;
  xLabels: string[]; yLabels: string[];
  datasets: any[];
};

function buildConfig(p: PanelSpec): any {
  return {
    type: 'line',
    data: { datasets: p.datasets },
    options: {
      responsive: false,
      animation: false,
      devicePixelRatio: 1,
      events: [],
      layout: { padding: { left: 0, top: p.padTop, right: p.padRight, bottom: 0 } },
      plugins: { legend: { display: false }, tooltip: { enabled: false }, title: { display: false } },
      scales: {
        x: {
          type: 'linear',
          min: 0,
          max: 10,
          ticks: {
            stepSize: 2,
            autoSkip: false,
            maxRotation: 0,
            padding: p.xTickPad,
            color: '#1a1a1a',
            font: { family: SERIF, size: 16, weight: 'bold' },
            callback: (v: number) => p.xLabels[xTickValues.indexOf(v)] ?? '',
          },
          grid: { display: true, drawOnChartArea: false, drawTicks: true, tickLength: 4, color: '#444', lineWidth: 1.3 },
          border: { display: true, color: '#333', width: 1.6 },
          title: {
            display: true,
            text: 'Years after HIV seroconversion',
            color: '#111',
            font: { family: SERIF, size: 17, weight: 'bold' },
            padding: { top: 0, bottom: p.xTitlePad },
          },
          afterFit: (s: any) => { s.height = p.xHeight; },
        },
        y: {
          type: 'linear',
          min: 0,
          max: 7,
          ticks: {
            stepSize: 1,
            padding: p.yTickPad,
            color: '#1a1a1a',
            font: { family: SERIF, size: 15, weight: 'bold' },
            callback: (v: number) => p.yLabels[yTickValues.indexOf(v)] ?? '',
          },
          grid: { display: true, drawOnChartArea: false, drawTicks: true, tickLength: 4, color: '#444', lineWidth: 1.3 },
          border: { display: true, color: '#333', width: 1.6 },
          title: {
            display: true,
            text: 'LAg-Avidity assay result, OD-n',
            color: '#111',
            font: { family: SERIF, size: 16, weight: 'normal' },
            padding: { top: p.yTitlePad, bottom: 0 },
          },
          afterFit: (s: any) => { s.width = p.yWidth; },
        },
      },
    },
  };
}

function Panel({ spec }: { spec: PanelSpec }) {
  const ref = useRef<HTMLCanvasElement>(null);
  useEffect(() => {
    if (!ref.current) return;
    const chart = new Chart(ref.current, buildConfig(spec));
    return () => chart.destroy();
  }, [spec]);
  return (
    <canvas
      ref={ref}
      width={spec.width}
      height={spec.height}
      style={{ position: 'absolute', left: spec.left, top: spec.top, width: spec.width, height: spec.height }}
    />
  );
}

const dsA = [...seriesA.map((s, i) => lineDs(s, stylesA[i])), cutoffDs(9.7)];
const dsB = [...seriesB.map((s, i) => lineDs(s, stylesB[i])), cutoffDs(9.8)];
const dsC = [
  ...preC.map((s) => lineDs(s, 's')),
  ...postC.filter((s) => s.length > 0).map((s) => lineDs(s, 'g')),
  cutoffDs(10),
];
const dsD = [
  ...preD.map((s) => lineDs(s, 's')),
  ...postD.filter((s) => s.length > 0).map((s) => lineDs(s, 'g')),
  cutoffDs(10.2),
];

const specA: PanelSpec = {
  left: 0, top: 60, width: 483, height: 330,
  padTop: 15, padRight: 13, yWidth: 58.3, xHeight: 55.5,
  xTitlePad: 8.3, yTitlePad: 10.4, xTickPad: 2, yTickPad: 4,
  xLabels: xTickLabelsNoZero, yLabels: yTickLabelsNoZero, datasets: dsA,
};
const specB: PanelSpec = {
  left: 483, top: 60, width: 500, height: 330,
  padTop: 14, padRight: 22, yWidth: 67.5, xHeight: 55,
  xTitlePad: 9.8, yTitlePad: 28.9, xTickPad: 3, yTickPad: 8,
  xLabels: xTickLabelsNoZero, yLabels: yTickLabelsNoZero, datasets: dsB,
};
const specC: PanelSpec = {
  left: 0, top: 420, width: 483, height: 340,
  padTop: 16, padRight: 13.7, yWidth: 58.3, xHeight: 63,
  xTitlePad: 9.8, yTitlePad: 10.4, xTickPad: 4, yTickPad: 4,
  xLabels: xTickLabelsNoZero, yLabels: yTickLabelsNoZero, datasets: dsC,
};
const specD: PanelSpec = {
  left: 483, top: 420, width: 500, height: 340,
  padTop: 14.3, padRight: 20, yWidth: 69, xHeight: 64.3,
  xTitlePad: 11.8, yTitlePad: 23.9, xTickPad: -2, yTickPad: 5,
  xLabels: xTickLabelsZero, yLabels: yTickLabelsZero, datasets: dsD,
};

type Label = { text: string; left: number; top: number; size: number; bold: boolean; sans?: boolean };
const labels: Label[] = [
  { text: 'A', left: 8, top: 17, size: 30, bold: true, sans: true },
  { text: 'B', left: 507, top: 17, size: 30, bold: true, sans: true },
  { text: 'C', left: 9, top: 387, size: 30, bold: true, sans: true },
  { text: 'D', left: 508, top: 398, size: 30, bold: true, sans: true },
  { text: 'Subtype A', left: 187, top: 14, size: 23, bold: true },
  { text: 'Subtype D', left: 699, top: 14, size: 23, bold: true },
  { text: 'ART naive', left: 91, top: 42.5, size: 20, bold: false },
  { text: 'ART naive', left: 581, top: 45, size: 20, bold: false },
  { text: 'Initiated ART during follow-up', left: 97, top: 407, size: 20, bold: false },
  { text: 'Initiated ART during follow-up', left: 582, top: 404.5, size: 20, bold: false },
  { text: 'N=58', left: 394, top: 89.5, size: 18, bold: false },
  { text: 'N=18', left: 900, top: 90, size: 18, bold: false },
  { text: 'N=25', left: 405, top: 446, size: 18, bold: false },
  { text: 'N=14', left: 889, top: 446, size: 18, bold: false },
];

export default function App() {
  return (
    <div style={{ position: 'absolute', left: 0, top: 0, width: 966, height: 747, overflow: 'hidden', background: '#fff' }}>
      <Panel spec={specA} />
      <Panel spec={specB} />
      <Panel spec={specC} />
      <Panel spec={specD} />
      {labels.map((l, i) => (
        <div
          key={i}
          style={{
            position: 'absolute',
            left: l.left,
            top: l.top,
            fontFamily: l.sans ? SANS : SERIF,
            fontSize: l.size,
            fontWeight: l.bold ? 700 : 400,
            lineHeight: 1,
            whiteSpace: 'nowrap',
            color: '#111',
          }}
        >
          {l.text}
        </div>
      ))}
    </div>
  );
}
